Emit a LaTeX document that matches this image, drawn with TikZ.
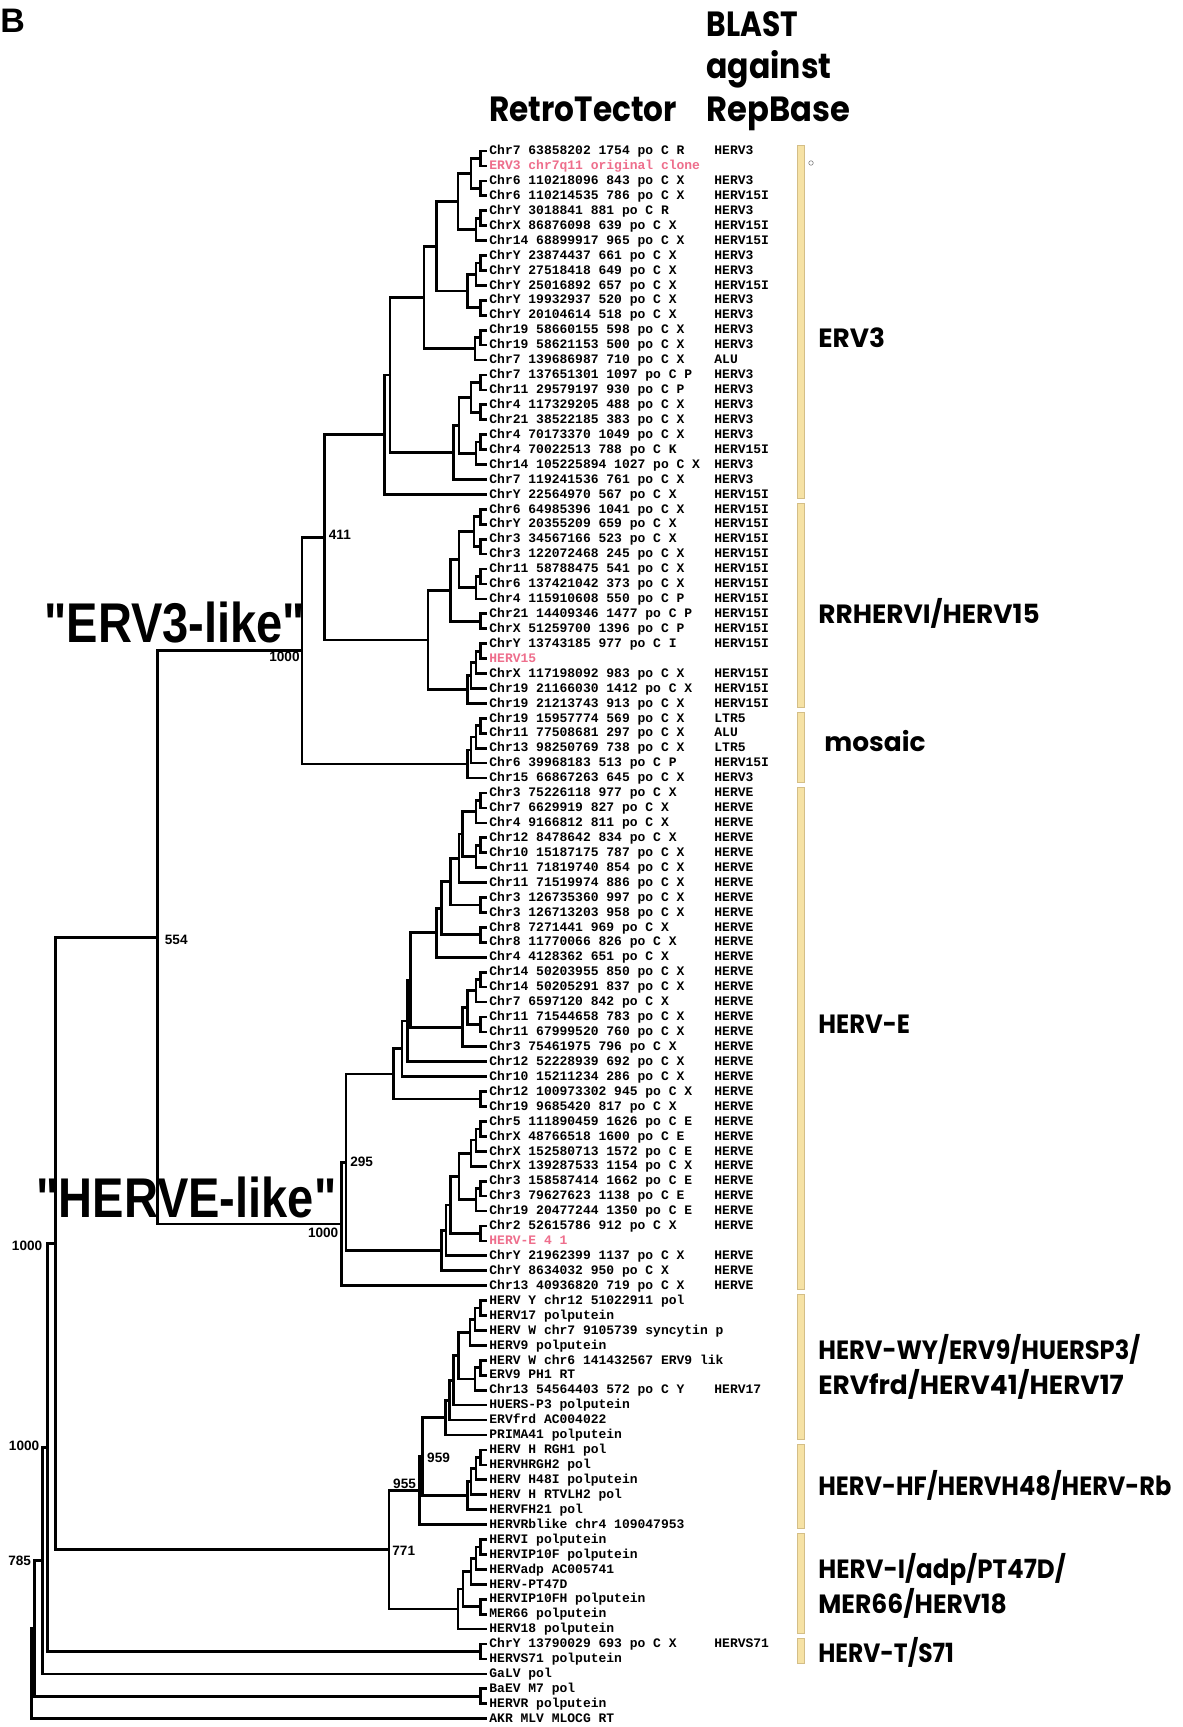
\documentclass[tikz,border=0pt]{standalone}
\usepackage{fontspec}
\usetikzlibrary{calc}
\newfontfamily\monob{Liberation Mono}
\newfontfamily\grpf{Poppins}
\newfontfamily\helf{Liberation Sans}
\definecolor{pinkl}{RGB}{238,110,140}
\definecolor{barfill}{RGB}{246,226,165}
\definecolor{barline}{RGB}{212,190,135}
\newcommand\tj[4]{%
  \coordinate (tmp) at ($(#3)!0.5!(#4)$);
  \coordinate (#1) at (#2,0 |- tmp);
  \draw[br] (#3) -| (#1) |- (#4);}
\newcommand\Lf[3]{%
  \coordinate (l#1) at (487,{151+14.93*#1});
  \node[lab] (t#1) at (l#1) {#2};
  \node[blast] (b#1) at (714,{151+14.93*#1}) {#3};}
\newcommand\LfN[2]{%
  \coordinate (l#1) at (487,{151+14.93*#1});
  \node[lab] (t#1) at (l#1) {#2};}
\newcommand\LfP[2]{%
  \coordinate (l#1) at (487,{151+14.93*#1});
  \node[lab, text=pinkl] (t#1) at (l#1) {#2};}
\newcommand\gbar[2]{%
  \draw[barst] (797,{151+14.93*#1-6}) rectangle (804,{151+14.93*#2+4});}
\begin{document}
\begin{tikzpicture}[x=0.5pt,y=-0.5pt,
  br/.style={line width=1.35pt, line join=miter, black},
  lab/.style={anchor=base west, inner sep=0pt, xshift=1pt, yshift=-1.85pt,
    font=\monob\bfseries\fontsize{6.5}{7}\selectfont},
  blast/.style={anchor=base west, inner sep=0pt, yshift=-1.85pt,
    font=\monob\bfseries\fontsize{6.5}{7}\selectfont},
  bs/.style={inner sep=0pt, font=\helf\bfseries\fontsize{6.8}{7}\selectfont},
  barst/.style={fill=barfill, draw=barline, line width=0.4pt},
  grp/.style={anchor=west, inner sep=0pt, align=left,
    font=\grpf\bfseries\fontsize{13.2}{17.6}\selectfont},
  hdr/.style={anchor=base west, inner sep=0pt,
    font=\grpf\bfseries\fontsize{17.5}{17.5}\selectfont},
  big/.style={anchor=base west, inner sep=0pt,
    font=\helf\bfseries\fontsize{28}{28}\selectfont}]
\useasboundingbox (0,0) rectangle (1182,1727);
\fill[white] (0,0) rectangle (1182,1727);

% headers
\node[anchor=base west, inner sep=0pt, font=\helf\bfseries\fontsize{17}{17}\selectfont] (Blab) at (0,33) {B};
\node[hdr] (rt) at (489,122) {\scalebox{0.89}[1]{RetroTector}};
\node[hdr] (bl1) at (706,37) {\scalebox{0.85}[1]{BLAST}};
\node[hdr] (bl2) at (706,78.5) {\scalebox{0.9}[1]{against}};
\node[hdr] (bl3) at (706,122) {\scalebox{0.92}[1]{RepBase}};

% leaves
\Lf{0}{Chr7 63858202 1754 po C R}{HERV3}
\LfP{1}{ERV3 chr7q11 original clone}
\Lf{2}{Chr6 110218096 843 po C X}{HERV3}
\Lf{3}{Chr6 110214535 786 po C X}{HERV15I}
\Lf{4}{ChrY 3018841 881 po C R}{HERV3}
\Lf{5}{ChrX 86876098 639 po C X}{HERV15I}
\Lf{6}{Chr14 68899917 965 po C X}{HERV15I}
\Lf{7}{ChrY 23874437 661 po C X}{HERV3}
\Lf{8}{ChrY 27518418 649 po C X}{HERV3}
\Lf{9}{ChrY 25016892 657 po C X}{HERV15I}
\Lf{10}{ChrY 19932937 520 po C X}{HERV3}
\Lf{11}{ChrY 20104614 518 po C X}{HERV3}
\Lf{12}{Chr19 58660155 598 po C X}{HERV3}
\Lf{13}{Chr19 58621153 500 po C X}{HERV3}
\Lf{14}{Chr7 139686987 710 po C X}{ALU}
\Lf{15}{Chr7 137651301 1097 po C P}{HERV3}
\Lf{16}{Chr11 29579197 930 po C P}{HERV3}
\Lf{17}{Chr4 117329205 488 po C X}{HERV3}
\Lf{18}{Chr21 38522185 383 po C X}{HERV3}
\Lf{19}{Chr4 70173370 1049 po C X}{HERV3}
\Lf{20}{Chr4 70022513 788 po C K}{HERV15I}
\Lf{21}{Chr14 105225894 1027 po C X}{HERV3}
\Lf{22}{Chr7 119241536 761 po C X}{HERV3}
\Lf{23}{ChrY 22564970 567 po C X}{HERV15I}
\Lf{24}{Chr6 64985396 1041 po C X}{HERV15I}
\Lf{25}{ChrY 20355209 659 po C X}{HERV15I}
\Lf{26}{Chr3 34567166 523 po C X}{HERV15I}
\Lf{27}{Chr3 122072468 245 po C X}{HERV15I}
\Lf{28}{Chr11 58788475 541 po C X}{HERV15I}
\Lf{29}{Chr6 137421042 373 po C X}{HERV15I}
\Lf{30}{Chr4 115910608 550 po C P}{HERV15I}
\Lf{31}{Chr21 14409346 1477 po C P}{HERV15I}
\Lf{32}{ChrX 51259700 1396 po C P}{HERV15I}
\Lf{33}{ChrY 13743185 977 po C I}{HERV15I}
\LfP{34}{HERV15}
\Lf{35}{ChrX 117198092 983 po C X}{HERV15I}
\Lf{36}{Chr19 21166030 1412 po C X}{HERV15I}
\Lf{37}{Chr19 21213743 913 po C X}{HERV15I}
\Lf{38}{Chr19 15957774 569 po C X}{LTR5}
\Lf{39}{Chr11 77508681 297 po C X}{ALU}
\Lf{40}{Chr13 98250769 738 po C X}{LTR5}
\Lf{41}{Chr6 39968183 513 po C P}{HERV15I}
\Lf{42}{Chr15 66867263 645 po C X}{HERV3}
\Lf{43}{Chr3 75226118 977 po C X}{HERVE}
\Lf{44}{Chr7 6629919 827 po C X}{HERVE}
\Lf{45}{Chr4 9166812 811 po C X}{HERVE}
\Lf{46}{Chr12 8478642 834 po C X}{HERVE}
\Lf{47}{Chr10 15187175 787 po C X}{HERVE}
\Lf{48}{Chr11 71819740 854 po C X}{HERVE}
\Lf{49}{Chr11 71519974 886 po C X}{HERVE}
\Lf{50}{Chr3 126735360 997 po C X}{HERVE}
\Lf{51}{Chr3 126713203 958 po C X}{HERVE}
\Lf{52}{Chr8 7271441 969 po C X}{HERVE}
\Lf{53}{Chr8 11770066 826 po C X}{HERVE}
\Lf{54}{Chr4 4128362 651 po C X}{HERVE}
\Lf{55}{Chr14 50203955 850 po C X}{HERVE}
\Lf{56}{Chr14 50205291 837 po C X}{HERVE}
\Lf{57}{Chr7 6597120 842 po C X}{HERVE}
\Lf{58}{Chr11 71544658 783 po C X}{HERVE}
\Lf{59}{Chr11 67999520 760 po C X}{HERVE}
\Lf{60}{Chr3 75461975 796 po C X}{HERVE}
\Lf{61}{Chr12 52228939 692 po C X}{HERVE}
\Lf{62}{Chr10 15211234 286 po C X}{HERVE}
\Lf{63}{Chr12 100973302 945 po C X}{HERVE}
\Lf{64}{Chr19 9685420 817 po C X}{HERVE}
\Lf{65}{Chr5 111890459 1626 po C E}{HERVE}
\Lf{66}{ChrX 48766518 1600 po C E}{HERVE}
\Lf{67}{ChrX 152580713 1572 po C E}{HERVE}
\Lf{68}{ChrX 139287533 1154 po C X}{HERVE}
\Lf{69}{Chr3 158587414 1662 po C E}{HERVE}
\Lf{70}{Chr3 79627623 1138 po C E}{HERVE}
\Lf{71}{Chr19 20477244 1350 po C E}{HERVE}
\Lf{72}{Chr2 52615786 912 po C X}{HERVE}
\LfP{73}{HERV-E 4 1}
\Lf{74}{ChrY 21962399 1137 po C X}{HERVE}
\Lf{75}{ChrY 8634032 950 po C X}{HERVE}
\Lf{76}{Chr13 40936820 719 po C X}{HERVE}
\LfN{77}{HERV Y chr12 51022911 pol}
\LfN{78}{HERV17 polputein}
\LfN{79}{HERV W chr7 9105739 syncytin p}
\LfN{80}{HERV9 polputein}
\LfN{81}{HERV W chr6 141432567 ERV9 lik}
\LfN{82}{ERV9 PH1 RT}
\Lf{83}{Chr13 54564403 572 po C Y}{HERV17}
\LfN{84}{HUERS-P3 polputein}
\LfN{85}{ERVfrd AC004022}
\LfN{86}{PRIMA41 polputein}
\LfN{87}{HERV H RGH1 pol}
\LfN{88}{HERVHRGH2 pol}
\LfN{89}{HERV H48I polputein}
\LfN{90}{HERV H RTVLH2 pol}
\LfN{91}{HERVFH21 pol}
\LfN{92}{HERVRblike chr4 109047953}
\LfN{93}{HERVI polputein}
\LfN{94}{HERVIP10F polputein}
\LfN{95}{HERVadp AC005741}
\LfN{96}{HERV-PT47D}
\LfN{97}{HERVIP10FH polputein}
\LfN{98}{MER66 polputein}
\LfN{99}{HERV18 polputein}
\Lf{100}{ChrY 13790029 693 po C X}{HERVS71}
\LfN{101}{HERVS71 polputein}
\LfN{102}{GaLV pol}
\LfN{103}{BaEV M7 pol}
\LfN{104}{HERVR polputein}
\LfN{105}{AKR MLV MLOCG RT}

% ERV3 clade
\tj{a01}{480.7}{l0}{l1}
\tj{a23}{480.7}{l2}{l3}
\tj{A1}{471}{a01}{a23}
\tj{a45}{480.7}{l4}{l5}
\tj{a456}{476}{a45}{l6}
\tj{B1}{458}{A1}{a456}
\tj{a78}{480.7}{l7}{l8}
\tj{a789}{476}{a78}{l9}
\tj{a1011}{480.7}{l10}{l11}
\tj{D1}{467.6}{a789}{a1011}
\tj{C1}{436.6}{B1}{D1}
\tj{a1213}{480.7}{l12}{l13}
\tj{a1214}{475}{a1213}{l14}
\tj{E1}{424}{C1}{a1214}
\tj{p1}{480.7}{l15}{l16}
\tj{p2}{480.7}{l17}{l18}
\tj{q1}{471}{p1}{p2}
\tj{p3}{480.7}{l19}{l20}
\tj{q2}{476}{p3}{l21}
\tj{r1}{459}{q1}{q2}
\tj{G1}{453.8}{r1}{l22}
\tj{F1}{390}{E1}{G1}
\tj{H1}{384.8}{F1}{l23}
% HERV15 clade
\tj{b2425}{480.7}{l24}{l25}
\tj{b2627}{480.7}{l26}{l27}
\tj{u1}{474}{b2425}{b2627}
\tj{b2829}{480.7}{l28}{l29}
\tj{b2830}{476}{b2829}{l30}
\tj{s1}{459}{u1}{b2830}
\tj{b3132}{480.7}{l31}{l32}
\tj{s2}{450.3}{s1}{b3132}
\tj{c3334}{480.7}{l33}{l34}
\tj{c35}{476}{c3334}{l35}
\tj{c36}{471}{c35}{l36}
\tj{c37}{467.6}{c36}{l37}
\tj{J1}{428}{s2}{c37}
\tj{I1}{324.5}{H1}{J1}
% mosaic
\tj{m3839}{480.7}{l38}{l39}
\tj{m40}{476}{m3839}{l40}
\tj{m41}{471}{m40}{l41}
\tj{m42}{467.6}{m41}{l42}
\tj{K1}{302}{I1}{m42}
% HERV-E clade
\tj{e4344}{480.7}{l43}{l44}
\tj{e45}{476}{e4344}{l45}
\tj{e4647}{480.7}{l46}{l47}
\tj{e48}{476}{e4647}{l48}
\tj{e462}{462.4}{e45}{e48}
\tj{e49}{459}{e462}{l49}
\tj{e5051}{480.7}{l50}{l51}
\tj{e450}{450.3}{e49}{e5051}
\tj{e5253}{480.7}{l52}{l53}
\tj{e441}{441.7}{e450}{e5253}
\tj{e436}{436.6}{e441}{l54}
\tj{e5556}{480.7}{l55}{l56}
\tj{e57}{476}{e5556}{l57}
\tj{e5859}{480.7}{l58}{l59}
\tj{e467}{467.6}{e57}{e5859}
\tj{e60}{462.4}{e467}{l60}
\tj{X3}{410.7}{e436}{e60}
\tj{X2}{407.2}{X3}{l61}
\tj{X1}{402}{X2}{l62}
\tj{e6364}{480.7}{l63}{l64}
\tj{X0}{393.4}{X1}{e6364}
\tj{e6566}{480.7}{l65}{l66}
\tj{e67}{476}{e6566}{l67}
\tj{e68}{471}{e67}{l68}
\tj{e6970}{480.7}{l69}{l70}
\tj{e71}{476}{e6970}{l71}
\tj{e459}{459}{e68}{e71}
\tj{e7273}{480.7}{l72}{l73}
\tj{e4503}{450.3}{e459}{e7273}
\tj{Z2}{445.9}{e4503}{l74}
\tj{Y1}{441.7}{Z2}{l75}
\tj{n295}{345.9}{X0}{Y1}
\tj{M1}{341.7}{n295}{l76}
\tj{L1}{157.5}{K1}{M1}
% HERV-W
\tj{w7778}{480.7}{l77}{l78}
\tj{w79}{475}{w7778}{l79}
\tj{w80}{470}{w79}{l80}
\tj{w8182}{480.7}{l81}{l82}
\tj{w83}{475}{w8182}{l83}
\tj{w458}{458.3}{w80}{w83}
\tj{w84}{453.8}{w458}{l84}
\tj{w85}{449.3}{w84}{l85}
\tj{w86}{445.2}{w85}{l86}
% HERV-H
\tj{h8788}{480.7}{l87}{l88}
\tj{h89}{476}{h8788}{l89}
\tj{h90}{471}{h89}{l90}
\tj{h91}{467.6}{h90}{l91}
\tj{Q1}{422.8}{w86}{h91}
\tj{P1}{419.3}{Q1}{l92}
% HERV-I
\tj{i9394}{480.7}{l93}{l94}
\tj{i95}{476}{i9394}{l95}
\tj{i96}{471}{i95}{l96}
\tj{i9798}{480.7}{l97}{l98}
\tj{i463}{463}{i96}{i9798}
\tj{i99}{458}{i463}{l99}
\tj{O1}{389}{P1}{i99}
% root part
\tj{N1}{55.6}{L1}{O1}
\tj{t100}{480.7}{l100}{l101}
\tj{V1}{47.6}{N1}{t100}
\tj{U1}{42.4}{V1}{l102}
\tj{t103}{480.7}{l103}{l104}
\tj{T1}{34.4}{U1}{t103}
\tj{R0}{31.8}{T1}{l105}

% bootstrap values
\node[bs, anchor=west] (v411) at ($(I1)+(4,-2)$) {411};
\node[bs, anchor=east] (vK) at ($(K1)+(-2,6)$) {1000};
\node[bs, anchor=west] (v554) at ($(L1)+(7,2.5)$) {554};
\node[bs, anchor=west] (v295) at ($(n295)+(4,0)$) {295};
\node[bs, anchor=east] (vM) at ($(M1)+(-3,9)$) {1000};
\node[bs, anchor=west] (v959) at ($(Q1)+(4,1)$) {959};
\node[bs, anchor=east] (v955) at ($(P1)+(-3,-7)$) {955};
\node[bs, anchor=west] (v771) at ($(O1)+(3,1)$) {771};
\node[bs, anchor=east] (vN) at ($(N1)+(-13,2)$) {1000};
\node[bs, anchor=east] (vV) at ($(V1)+(-8,-2)$) {1000};
\node[bs, anchor=east] (v785) at ($(U1)+(-11,0)$) {785};

% clade names
\node[big] (erv3like) at (44,642) {\scalebox{0.84}[1]{"ERV3-like"}};
\node[big] (hervelike) at (36,1217) {\scalebox{0.84}[1]{"HERVE-like"}};

% bars
\gbar{0}{23}
\gbar{24}{37}
\gbar{38}{42}
\gbar{43}{76}
\gbar{77}{86}
\gbar{87}{92}
\gbar{93}{99}
\gbar{100}{101}
\node[circle, draw=gray, line width=0.3pt, inner sep=0.8pt] (dot) at (811,163) {};

% group labels
\node[grp] (gERV3) at (818,338) {ERV3};
\node[grp] (gHERV15) at (818,613.6) {RRHERVI/HERV15};
\node[grp] (gmos) at (824,741) {mosaic};
\node[grp] (gHERVE) at (818,1024.5) {\scalebox{0.92}[1]{HERV-E}};
\node[grp] (gW) at (818,1367) {\scalebox{0.915}[1]{HERV-WY/ERV9/HUERSP3/}\\ERVfrd/HERV41/HERV17};
\node[grp] (gH) at (818,1485) {\scalebox{0.91}[1]{HERV-HF/HERVH48/HERV-Rb}};
\node[grp] (gI) at (818,1586) {\scalebox{0.93}[1]{HERV-I/adp/PT47D/}\\\scalebox{0.95}[1]{MER66/HERV18}};
\node[grp] (gT) at (818,1652) {\scalebox{0.885}[1]{HERV-T/S71}};
\end{tikzpicture}
\end{document}
